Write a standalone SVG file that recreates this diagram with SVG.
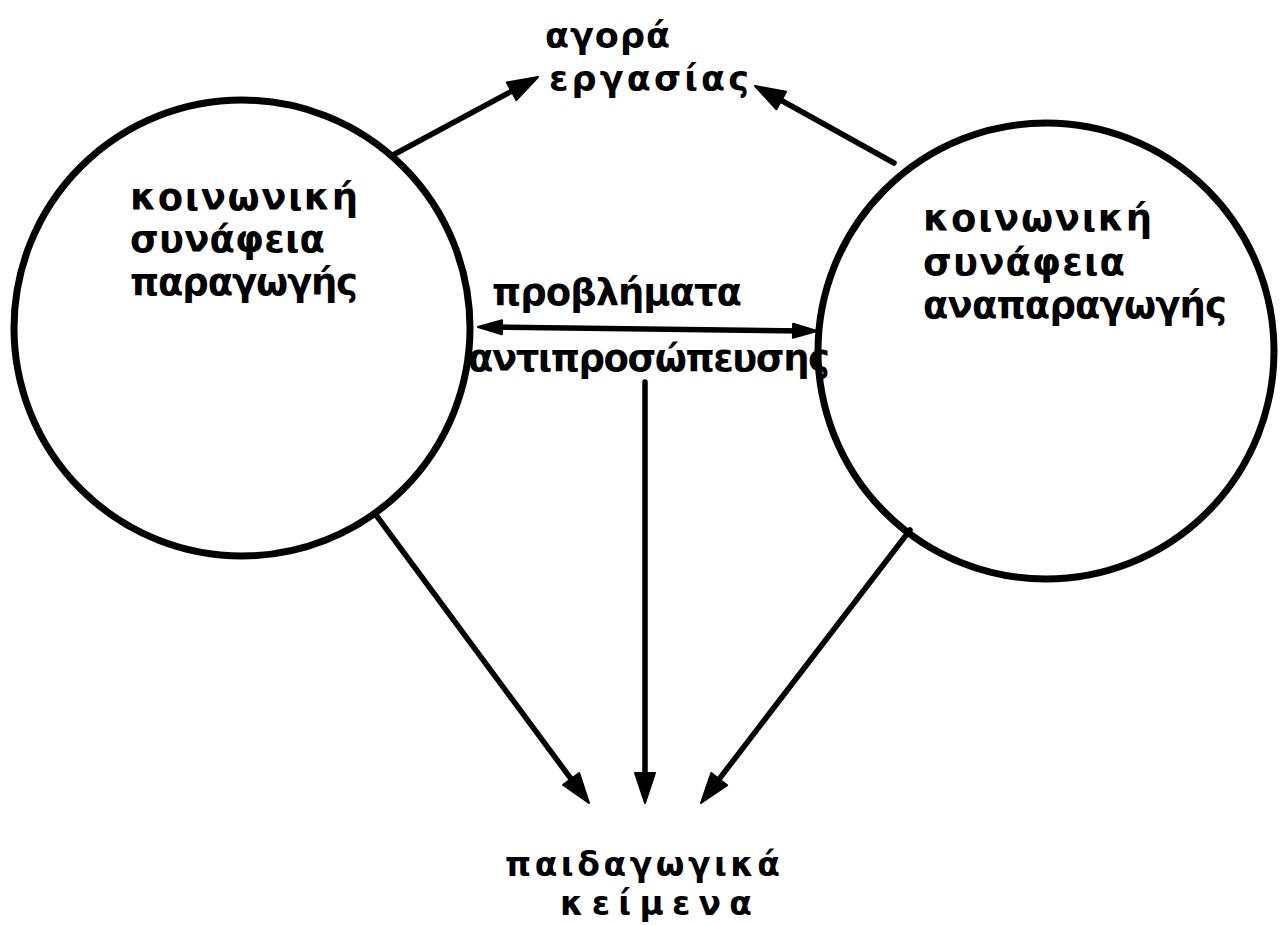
<svg xmlns="http://www.w3.org/2000/svg" xmlns:xlink="http://www.w3.org/1999/xlink" width="1281" height="925" viewBox="0 0 1281 925">
<style>
.bg{fill:#ffffff}
.node{fill:none;stroke:#000;stroke-width:7}
.edge{fill:none;stroke:#000;stroke-width:5.5;stroke-linecap:round}
.lbl{font-family:"DejaVu Sans","Liberation Sans",sans-serif;font-weight:bold;font-size:37px;fill:#000}
.sm{font-size:35px}
.bt{font-size:33px}
</style>
<defs>
<polygon id="head" points="0,0 -30,-10 -30,10" fill="#000" stroke="#000" stroke-width="2" stroke-linejoin="round"/>
<polygon id="heads" points="0,0 -24,-7 -24,7" fill="#000" stroke="#000" stroke-width="2" stroke-linejoin="round"/>
</defs>
<rect class="bg" x="0" y="0" width="1281" height="925"/>
<g id="connectors">
<line class="edge" x1="393" y1="155" x2="525" y2="84"/>
<use xlink:href="#head" href="#head" transform="translate(538,77) rotate(-28.3)"/>
<line class="edge" x1="894" y1="163" x2="768" y2="93"/>
<use xlink:href="#head" href="#head" transform="translate(755,86) rotate(-151)"/>
<line class="edge" x1="490" y1="327" x2="805" y2="331"/>
<use xlink:href="#heads" href="#heads" transform="translate(478,327) rotate(180.7)"/>
<use xlink:href="#heads" href="#heads" transform="translate(817,331) rotate(0.7)"/>
<line class="edge" x1="645" y1="382" x2="645" y2="788"/>
<use xlink:href="#head" href="#head" transform="translate(645,803) rotate(90)"/>
<line class="edge" x1="376" y1="515" x2="580" y2="791"/>
<use xlink:href="#head" href="#head" transform="translate(589,803) rotate(53.5)"/>
<line class="edge" x1="910" y1="530" x2="710" y2="791"/>
<use xlink:href="#head" href="#head" transform="translate(701,803) rotate(127.4)"/>
</g>
<g id="node-production">
<circle class="node" cx="242" cy="328" r="228"/>
<text class="lbl" x="130" y="210" textLength="228" lengthAdjust="spacing">κοινωνική</text>
<text class="lbl" x="130" y="252" textLength="195" lengthAdjust="spacing">συνάφεια</text>
<text class="lbl" x="130" y="295" textLength="228" lengthAdjust="spacing">παραγωγής</text>
</g>
<g id="node-reproduction">
<circle class="node" cx="1046" cy="351" r="228"/>
<text class="lbl" x="923" y="231" textLength="229" lengthAdjust="spacing">κοινωνική</text>
<text class="lbl" x="923" y="275" textLength="202" lengthAdjust="spacing">συνάφεια</text>
<text class="lbl" x="923" y="318" textLength="304" lengthAdjust="spacing">αναπαραγωγής</text>
</g>
<g id="node-labour-market">
<text class="lbl sm" x="545" y="48" textLength="125" lengthAdjust="spacing">αγορά</text>
<text class="lbl sm" x="549" y="91" textLength="200" lengthAdjust="spacing">εργασίας</text>
</g>
<g id="node-representation">
<text class="lbl" x="492" y="305" textLength="250" lengthAdjust="spacing">προβλήματα</text>
<text class="lbl" x="468" y="371" textLength="362" lengthAdjust="spacing">αντιπροσώπευσης</text>
</g>
<g id="node-texts">
<text class="lbl bt" x="505" y="876" textLength="275" lengthAdjust="spacing">παιδαγωγικά</text>
<text class="lbl bt" x="560" y="915" textLength="192" lengthAdjust="spacing">κείμενα</text>
</g>
</svg>
